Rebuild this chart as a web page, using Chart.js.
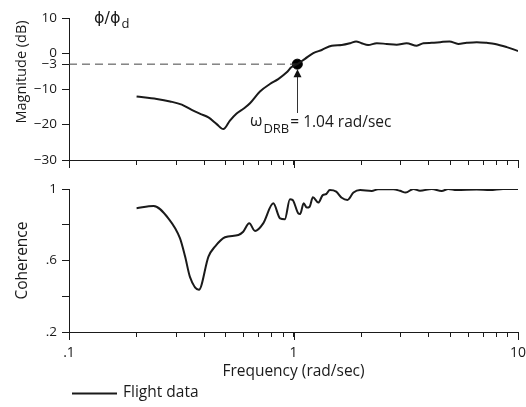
<!DOCTYPE html>
<html><head><meta charset="utf-8">
<script src="https://cdn.jsdelivr.net/npm/chart.js@4"></script>
<style>
html,body{margin:0;padding:0;background:#fff;}
#wrap{position:relative;width:526px;height:407px;overflow:hidden;}
#c1{position:absolute;left:0;top:0;}
#c2{position:absolute;left:0;top:175px;}
</style></head><body>
<div id="wrap"><canvas id="c1" width="526" height="175"></canvas><canvas id="c2" width="526" height="232"></canvas></div>
<script>
// ---- data ----
const magFreq = [0.2,0.246,0.282,0.318,0.352,0.384,0.418,0.455,0.487,0.521,0.558,0.600,0.640,0.709,0.785,0.855,0.933,0.977,1.04,1.125,1.225,1.336,1.48,1.64,1.79,1.90,2.01,2.15,2.35,2.60,2.88,3.19,3.54,3.79,4.13,4.50,4.95,5.42,5.91,6.55,7.26,7.91,8.91,10];
const magDb = [-12.1,-12.8,-13.5,-14.4,-15.9,-17.0,-18.0,-19.9,-21.3,-18.9,-16.9,-15.5,-14.0,-10.7,-8.6,-7.2,-5.3,-3.9,-3.0,-1.5,0.1,1.0,2.2,2.4,2.9,3.4,2.9,2.4,2.9,2.7,2.5,2.9,2.2,2.9,3.0,3.2,3.4,2.7,3.0,3.2,3.0,2.7,1.8,0.7];
const cohFreq = [0.2,0.238,0.277,0.312,0.329,0.346,0.379,0.418,0.447,0.495,0.568,0.597,0.635,0.674,0.733,0.813,0.871,0.915,0.964,0.99,1.05,1.07,1.11,1.146,1.18,1.22,1.29,1.35,1.40,1.45,1.55,1.64,1.74,1.85,1.98,2.23,2.38,2.78,2.98,3.16,3.42,3.66,4.13,4.57,4.89,5.33,6.55,7.50,8.58,10];
const cohVal = [0.892,0.905,0.836,0.725,0.622,0.507,0.436,0.622,0.678,0.730,0.743,0.761,0.808,0.765,0.808,0.920,0.836,0.831,0.942,0.939,0.864,0.860,0.920,0.896,0.901,0.954,0.924,0.966,0.972,0.994,0.985,0.951,0.939,0.980,0.994,0.989,0.998,0.998,0.990,0.980,1.0,0.99,1.0,0.989,1.0,0.994,0.997,0.994,1.0,1.0];
const magTicks = [10,0,-3,-10,-20,-30];
const cohTicks = [1,0.8,0.6,0.4,0.2];
const cohTickLabels = {'1':'1','0.6':'.6','0.2':'.2'};
const freqTicks = [0.1,0.2,0.3,0.4,0.5,0.6,0.7,0.8,0.9,1,2,3,4,5,6,7,8,9,10];
const freqTickLabels = {'0.1':'.1','1':'1','10':'10'};
const majorFreq = [0.1,1,10];
const drbFreq = 1.04, drbDb = -3;
const seriesName = 'Flight data';

const FONT = "'Open Sans', 'Noto Sans', sans-serif";
const INK = '#1a1a1a';

function pts(xs, ys){ return xs.map((x,i)=>({x:x,y:ys[i]})); }

const majorTickPlugin = {
  id:'majorTicks',
  afterDraw(chart){
    const ctx = chart.ctx, xs = chart.scales.x, b = chart.chartArea.bottom;
    ctx.save(); ctx.strokeStyle = INK; ctx.lineWidth = 1;
    majorFreq.forEach(v=>{
      const px = Math.round(xs.getPixelForValue(v)) + 0.5;
      ctx.beginPath(); ctx.moveTo(px, b); ctx.lineTo(px, b+8); ctx.stroke();
    });
    ctx.restore();
  }
};

const topAnno = {
  id:'topAnno',
  afterDraw(chart){
    const ctx = chart.ctx, xs = chart.scales.x, ys = chart.scales.y;
    ctx.save();
    ctx.fillStyle = INK;
    ctx.font = "14.5px " + FONT;
    ctx.textAlign = 'center'; ctx.textBaseline = 'middle';
    ctx.translate(22, 72); ctx.rotate(-Math.PI/2);
    ctx.fillText('Magnitude (dB)', 0, 0);
    ctx.restore();
    ctx.save();
    ctx.fillStyle = INK;
    ctx.textBaseline = 'alphabetic'; ctx.textAlign = 'left';
    ctx.font = "16px 'DejaVu Sans', sans-serif";
    ctx.fillText('\u03d5/\u03d5', 94, 23);
    let w = ctx.measureText('\u03d5/\u03d5').width;
    ctx.font = "13px " + FONT;
    ctx.fillText('d', 94 + w + 1, 28);
    // arrow
    const ax = Math.round(xs.getPixelForValue(drbFreq)) + 0.5;
    const ay = ys.getPixelForValue(drbDb);
    ctx.strokeStyle = '#333'; ctx.fillStyle = '#111'; ctx.lineWidth = 1;
    ctx.beginPath(); ctx.moveTo(ax, ay + 12); ctx.lineTo(ax, 113); ctx.stroke();
    ctx.beginPath(); ctx.moveTo(ax, ay + 5); ctx.lineTo(ax - 4, ay + 13); ctx.lineTo(ax + 4, ay + 13); ctx.closePath(); ctx.fill();
    // omega text
    ctx.fillStyle = INK;
    ctx.font = "16px " + FONT;
    ctx.fillText('\u03c9', 250, 126);
    let x = 250 + ctx.measureText('\u03c9').width + 1;
    ctx.font = "13px " + FONT;
    ctx.fillText('DRB', x, 133);
    x += ctx.measureText('DRB').width + 1;
    ctx.font = "15.5px " + FONT;
    ctx.fillText('= 1.04 rad/sec', x, 127);
    ctx.restore();
  }
};

const legendPlugin = {
  id:'legendDraw',
  afterDraw(chart){
    const ctx = chart.ctx;
    const y = 218.5;
    ctx.save();
    ctx.strokeStyle = INK; ctx.lineWidth = 2;
    ctx.beginPath(); ctx.moveTo(72, y); ctx.lineTo(117, y); ctx.stroke();
    ctx.fillStyle = INK; ctx.font = "15.5px " + FONT;
    ctx.textBaseline = 'middle'; ctx.textAlign = 'left';
    ctx.fillText(chart.data.datasets[0].label, 123, y - 1);
    ctx.restore();
  }
};

function xAxis(height, showLabels, extra){
  return Object.assign({
    type:'logarithmic', min:0.1, max:10, position:'bottom',
    afterBuildTicks: s => { s.ticks = freqTicks.map(v=>({value:v})); },
    afterFit: s => { s.height = height; s.paddingLeft = 0; s.paddingRight = 0; },
    grid:{drawOnChartArea:false, drawTicks:true, tickLength:5, color:INK, tickColor:INK},
    border:{display:true, color:INK, width:1},
    ticks:{autoSkip:false, maxRotation:0, padding:8, color:INK, font:{family:FONT, size:14},
      callback: v => showLabels ? (freqTickLabels[String(v)] || '') : ''}
  }, extra || {});
}

const common = {
  responsive:false, animation:false, devicePixelRatio:1,
  plugins:{legend:{display:false}, tooltip:{enabled:false}},
};

new Chart(document.getElementById('c1'), {
  type:'line',
  data:{datasets:[
    {label:seriesName, data:pts(magFreq, magDb), borderColor:INK, borderWidth:2, pointRadius:0, cubicInterpolationMode:'monotone', fill:false},
    {label:'-3 dB', data:pts([0.1, drbFreq],[drbDb, drbDb]), borderColor:'#444', borderWidth:1, borderDash:[8,5], pointRadius:0, fill:false},
    {label:'DRB', data:pts([drbFreq],[drbDb]), showLine:false, pointRadius:5, pointBackgroundColor:'#000', pointBorderColor:'#000'}
  ]},
  options:Object.assign({}, common, {
    layout:{padding:{left:0,right:8,top:18,bottom:0}},
    scales:{
      x: xAxis(15, false),
      y:{ type:'linear', min:-30, max:10, position:'left',
        afterBuildTicks: s => { s.ticks = magTicks.map(v=>({value:v})); },
        afterFit: s => { s.width = 69; },
        grid:{drawOnChartArea:false, tickLength:7, color:INK, tickColor:INK},
        border:{display:true, color:INK, width:1},
        ticks:{padding:5, color:INK, font:{family:FONT, size:13.5},
          callback: v => v < 0 ? '\u2212' + (-v) : String(v)}
      }
    }
  }),
  plugins:[majorTickPlugin, topAnno]
});

new Chart(document.getElementById('c2'), {
  type:'line',
  data:{datasets:[
    {label:seriesName, data:pts(cohFreq, cohVal), borderColor:INK, borderWidth:2, pointRadius:0, cubicInterpolationMode:'monotone', fill:false}
  ]},
  options:Object.assign({}, common, {
    layout:{padding:{left:0,right:8,top:14,bottom:25}},
    scales:{
      x: xAxis(50, true, {title:{display:true, text:'Frequency (rad/sec)', color:INK, font:{family:FONT, size:15.5}, padding:{top:0,bottom:1}}}),
      y:{ type:'linear', min:0.2, max:1, position:'left',
        afterBuildTicks: s => { s.ticks = cohTicks.map(v=>({value:v})); },
        afterFit: s => { s.width = 69; },
        grid:{drawOnChartArea:false, tickLength:7, color:INK, tickColor:INK},
        border:{display:true, color:INK, width:1},
        title:{display:true, text:'Coherence', color:INK, font:{family:FONT, size:15.5}, padding:{top:13,bottom:0}},
        ticks:{padding:5, color:INK, font:{family:FONT, size:13.5},
          callback: v => cohTickLabels[String(Math.round(v*10)/10)] || ''}
      }
    }
  }),
  plugins:[majorTickPlugin, legendPlugin]
});
</script>
</body></html>
